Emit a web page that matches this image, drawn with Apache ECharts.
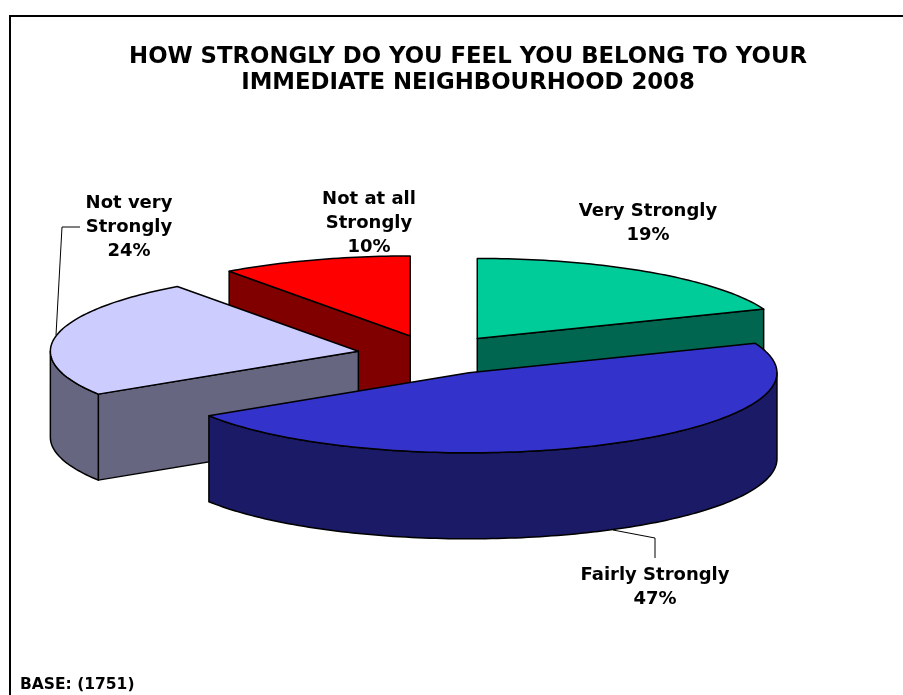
<!DOCTYPE html>
<html><head><meta charset="utf-8">
<style>html,body{margin:0;padding:0;background:#fff}#c{width:903px;height:695px}</style>
<script src="https://cdn.jsdelivr.net/npm/echarts@6/dist/echarts.min.js"></script>
</head><body><div id="c"></div>
<script>
const categories = ['Very Strongly', 'Fairly Strongly', 'Not very\nStrongly', 'Not at all\nStrongly'];
const values = [19, 47, 24, 10];
const topColors = ['#00CC99', '#3333CC', '#CCCCFF', '#FF0000'];
const sideColors = ['#006650', '#1A1A66', '#666680', '#800000'];
const paintOrder = [3, 0, 2, 1];
const labelCenters = [[648, 223], [655, 587], [129, 227], [369, 223]];
const titleLines = 'HOW STRONGLY DO YOU FEEL YOU BELONG TO YOUR\nIMMEDIATE NEIGHBOURHOOD 2008';
const baseNote = 'BASE: (1751)';

const FONT = '"DejaVu Sans"';
const view = {cx: 434, cy: 355, rx: 308, ry: 80, depth: 86, explode: 0.25};
const total = values.reduce((a, b) => a + b, 0);
const spans = [];
values.reduce((acc, v, i) => { spans[i] = [acc / total * 2 * Math.PI, (acc + v) / total * 2 * Math.PI]; return acc + v; }, 0);

function project(o, a) { return [o[0] + view.rx * Math.sin(a), o[1] - view.ry * Math.cos(a)]; }
function arcPts(o, a0, a1) {
  const n = Math.max(2, Math.ceil((a1 - a0) / 0.02)), pts = [];
  for (let i = 0; i <= n; i++) pts.push(project(o, a0 + (a1 - a0) * i / n));
  return pts;
}
const down = p => [p[0], p[1] + view.depth];
const poly = (points, fill) => ({type: 'polygon', shape: {points}, style: {fill, stroke: '#000', lineWidth: 1.5, lineJoin: 'round'}, silent: true});

function renderItem(params, api) {
  const i = api.value(0);
  const [a0, a1] = spans[i];
  const mid = (a0 + a1) / 2;
  const o = [view.cx + view.explode * view.rx * Math.sin(mid), view.cy - view.explode * view.ry * Math.cos(mid)];
  const children = [];
  // only the cut faces that turn toward the viewer are drawn
  if (a0 > Math.PI) { const p = project(o, a0); children.push(poly([o, p, down(p), down(o)], sideColors[i])); }
  if (a1 < Math.PI) { const p = project(o, a1); children.push(poly([o, p, down(p), down(o)], sideColors[i])); }
  const w0 = Math.max(a0, Math.PI / 2), w1 = Math.min(a1, Math.PI * 1.5);
  if (w1 > w0) {
    const arc = arcPts(o, w0, w1);
    children.push(poly(arc.concat(arc.map(down).reverse()), sideColors[i]));
  }
  children.push(poly([o].concat(arcPts(o, a0, a1)), topColors[i]));
  return {type: 'group', children};
}

const labelGraphics = categories.map((c, i) => ({
  type: 'text', x: labelCenters[i][0], y: labelCenters[i][1], silent: true, z: 10,
  style: {text: c + '\n' + values[i] + '%', align: 'center', verticalAlign: 'middle',
    font: 'bold 18px ' + FONT, lineHeight: 24, fill: '#000'}
}));
const lines = [
  [[10, 695], [10, 16], [903, 16]],
  [[56, 335], [62, 227], [80, 227]],
  [[613, 530], [655, 538], [655, 558]]
];
const lineGraphics = lines.map((pts, i) => ({
  type: 'polyline', shape: {points: pts}, silent: true, z: 5,
  style: {stroke: '#000', lineWidth: i === 0 ? 2 : 1, fill: null}
}));

const chart = echarts.init(document.getElementById('c'), null, {renderer: 'canvas'});
chart.setOption({
  animation: false,
  backgroundColor: '#fff',
  title: {text: titleLines, left: 463, top: 39, textAlign: 'center',
    textStyle: {fontFamily: FONT, fontWeight: 'bold', fontSize: 22.8, lineHeight: 26, color: '#000'}},
  graphic: lineGraphics.concat(labelGraphics).concat([{
    type: 'text', x: 20, y: 685, silent: true,
    style: {text: baseNote, font: 'bold 15.5px ' + FONT, verticalAlign: 'middle', fill: '#000'}
  }]),
  series: [{
    type: 'custom', coordinateSystem: 'none', silent: true,
    renderItem,
    dimensions: ['slice', 'share'],
    data: paintOrder.map(i => [i, values[i]]),
    z: 2
  }]
});
</script></body></html>
